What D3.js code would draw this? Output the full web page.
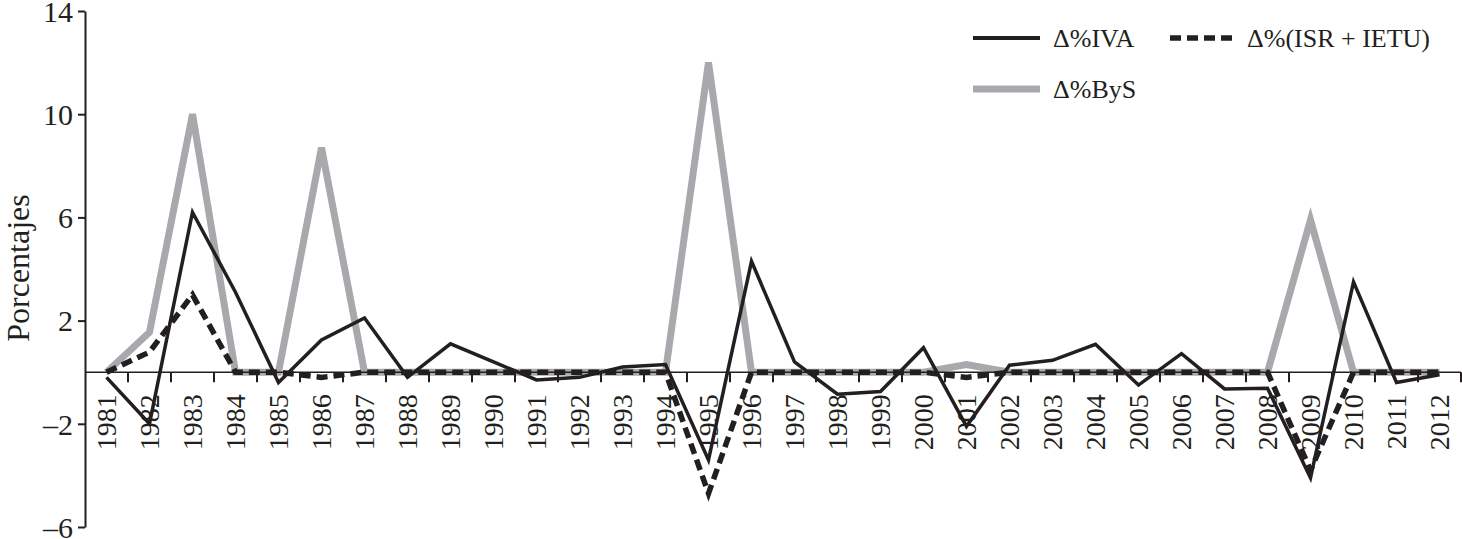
<!DOCTYPE html>
<html>
<head>
<meta charset="utf-8">
<script src="https://cdn.jsdelivr.net/npm/d3@7"></script>
<style>
  body { margin: 0; background: #fff; }
  svg text { font-family: "Liberation Serif", "DejaVu Serif", serif; fill: #231f20; }
</style>
</head>
<body>
<div class="chart"></div>
<script>
(function(){
// data
var years = [1981,1982,1983,1984,1985,1986,1987,1988,1989,1990,1991,1992,1993,1994,1995,1996,
             1997,1998,1999,2000,2001,2002,2003,2004,2005,2006,2007,2008,2009,2010,2011,2012];
var iva = [-0.2,-2.0,6.2,3.1,-0.4,1.25,2.1,-0.2,1.1,0.4,-0.3,-0.2,0.2,0.3,-3.4,4.3,
           0.4,-0.85,-0.75,0.95,-2.1,0.27,0.46,1.08,-0.5,0.72,-0.65,-0.62,-4.1,3.5,-0.4,-0.1];
var isrIetu = [0,0.78,3.0,0,0,-0.2,0,0,0,0,0,0,0,0,-4.7,0,
               0,0,0,0,-0.2,0,0,0,0,0,0,0,-3.8,0,0,0];
var bys = [0,1.55,10.0,0,0,8.7,0,0,0,0,0,0,0,0,12.0,0,
           0,0,0,0,0.3,0,0,0,0,0,0,0,5.9,0,0,0];
var yTicks = [14,10,6,2,-2,-6];
var yLabel = "Porcentajes";

var W = 1462, H = 539;
var left = 85, right = 1461, top = 11, bottom = 527;
var black = "#231f20", gray = "#a7a9ac";

var svg = d3.select(".chart").append("svg")
    .attr("width", W)
    .attr("height", H);

// scales
var x = d3.scaleBand().domain(years).range([left, right]).padding(0);
var y = d3.scaleLinear().domain([-6, 14]).range([bottom, top]);
var cx = function(yr) { return x(yr) + x.bandwidth() / 2; };

var line = function(vals) {
  return d3.line()
    .x(function(d, i) { return cx(years[i]); })
    .y(function(d) { return y(d); })(vals);
};

// gray series first
svg.append("path")
    .attr("d", line(bys))
    .style("fill", "none")
    .style("stroke", gray)
    .style("stroke-width", 7)
    .style("stroke-linejoin", "miter");

// y axis
var yAxis = svg.append("g")
    .attr("transform", "translate(" + left + ",0)")
    .call(d3.axisLeft(y).tickValues(yTicks).tickSize(7).tickSizeOuter(0)
      .tickFormat(function(d) { return d < 0 ? "\u2013" + Math.abs(d) : d; }));
yAxis.selectAll("path, line").style("stroke", black).style("stroke-width", 2);
yAxis.selectAll("text")
    .attr("x", -12)
    .attr("dy", "0.34em")
    .style("font-size", "30px")
    .style("font-family", "Liberation Serif, serif")
    .style("fill", black);

svg.append("text")
    .attr("transform", "translate(29," + 268 + ") rotate(-90)")
    .attr("text-anchor", "middle")
    .style("font-size", "32px")
    .text(yLabel);

// x axis at zero
var zeroY = y(0);
svg.append("line")
    .attr("x1", left).attr("x2", right)
    .attr("y1", zeroY).attr("y2", zeroY)
    .style("stroke", black)
    .style("stroke-width", 1.5);

// ticks sit on the band edges
var edges = years.map(function(yr) { return x(yr); }).concat([x(years[years.length - 1]) + x.bandwidth()]);
svg.selectAll(".xtick").data(edges.slice(1)).enter().append("line")
    .attr("class", "xtick")
    .attr("x1", function(d) { return d; }).attr("x2", function(d) { return d; })
    .attr("y1", zeroY).attr("y2", zeroY + 10)
    .style("stroke", black)
    .style("stroke-width", 2);

var xAxis = svg.append("g")
    .attr("transform", "translate(0," + zeroY + ")")
    .call(d3.axisBottom(x).tickSize(0));
xAxis.select(".domain").remove();
xAxis.selectAll("text")
    .attr("transform", "rotate(-90)")
    .attr("x", -22)
    .attr("y", 0)
    .attr("dy", "0.34em")
    .attr("text-anchor", "end")
    .style("font-size", "28px")
    .style("font-family", "Liberation Serif, serif")
    .style("fill", black);

// dashed and solid series
svg.append("path")
    .attr("d", line(isrIetu))
    .style("fill", "none")
    .style("stroke", black)
    .style("stroke-width", 5.5)
    .style("stroke-dasharray", "11,6");

svg.append("path")
    .attr("d", line(iva))
    .style("fill", "none")
    .style("stroke", black)
    .style("stroke-width", 3.5);

// legend
var legend = [
  {name: "\u0394%IVA", x: 973, y: 38, color: black, width: 4, dash: null},
  {name: "\u0394%(ISR + IETU)", x: 1170, y: 38, color: black, width: 5.5, dash: "11,6"},
  {name: "\u0394%ByS", x: 973, y: 89, color: gray, width: 7, dash: null}
];
var lg = svg.selectAll(".legend").data(legend).enter().append("g")
    .attr("class", "legend")
    .attr("transform", function(d) { return "translate(" + d.x + "," + d.y + ")"; });
lg.append("line")
    .attr("x1", 0).attr("x2", 67)
    .style("stroke", function(d) { return d.color; })
    .style("stroke-width", function(d) { return d.width; })
    .style("stroke-dasharray", function(d) { return d.dash; });
lg.append("text")
    .attr("x", function(d) { return d.dash ? 77 : 80; })
    .attr("dy", "0.35em")
    .style("font-size", "26px")
    .text(function(d) { return d.name; });
})();
</script>
</body>
</html>
